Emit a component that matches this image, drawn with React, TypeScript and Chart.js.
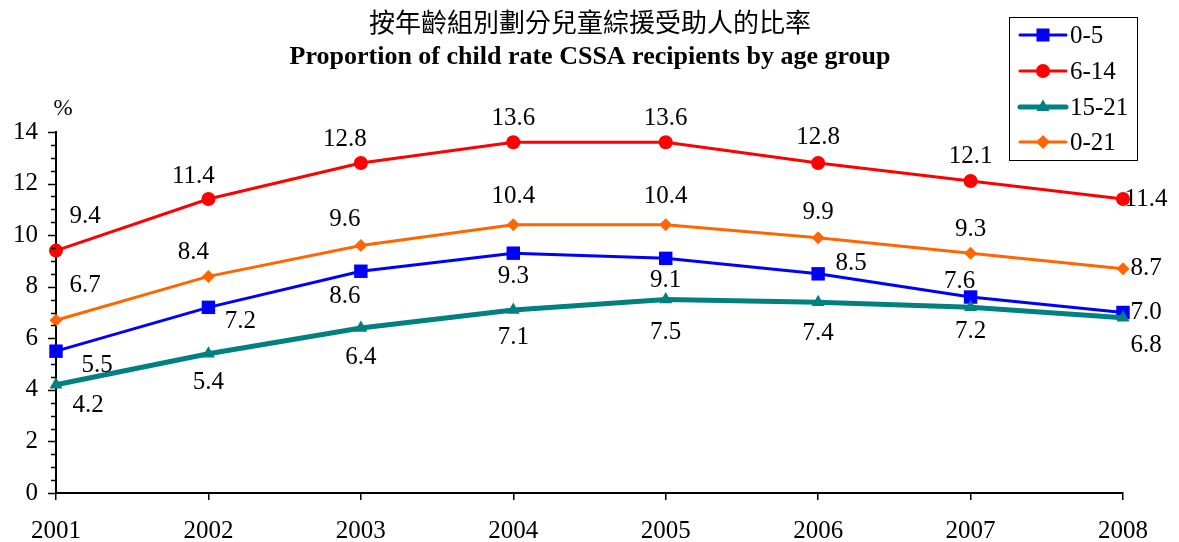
import React, { useEffect, useRef } from "react";
import { Chart, registerables } from "chart.js";

Chart.register(...registerables);

const years = ["2001", "2002", "2003", "2004", "2005", "2006", "2007", "2008"];
const age0to5 = [5.5, 7.2, 8.6, 9.3, 9.1, 8.5, 7.6, 7.0];
const age6to14 = [9.4, 11.4, 12.8, 13.6, 13.6, 12.8, 12.1, 11.4];
const age15to21 = [4.2, 5.4, 6.4, 7.1, 7.5, 7.4, 7.2, 6.8];
const age0to21 = [6.7, 8.4, 9.6, 10.4, 10.4, 9.9, 9.3, 8.7];
const seriesNames = ["0-5", "6-14", "15-21", "0-21"];
const yTicks = [0, 2, 4, 6, 8, 10, 12, 14];

const titleZh = "按年齡組別劃分兒童綜援受助人的比率";
const titleEn = "Proportion of child rate CSSA recipients by age group";

// label placement offsets (pixels relative to each point)
const offBlue = [[41, 14], [32, 14], [-16, 25], [0, 23], [0, 22], [33, -10], [-11, -16], [23, 0]];
const offRed = [[29, -34], [-15, -23], [-16, -24], [0, -24], [0, -24], [0, -26], [0, -25], [23, 0]];
const offTeal = [[32, 21], [0, 29], [0, 29], [0, 28], [0, 33], [0, 31], [0, 24], [23, 28]];
const offOrange = [[29, -35], [-15, -24], [-16, -26], [0, -28], [0, -28], [0, -25], [0, -24], [23, 0]];

const SERIF = '"Liberation Serif", "Times New Roman", serif';

const BLUE = "#0000FF";
const RED = "#FF0000";
const TEAL = "#008080";
const ORANGE = "#FF6600";

function drawMarker(ctx: CanvasRenderingContext2D, style: string, x: number, y: number, color: string) {
  ctx.save();
  ctx.fillStyle = color;
  ctx.beginPath();
  if (style === "rect") {
    ctx.rect(x - 6.5, y - 6.5, 13, 13);
  } else if (style === "circle") {
    ctx.arc(x, y, 7, 0, Math.PI * 2);
  } else if (style === "triangle") {
    ctx.moveTo(x, y - 7.5);
    ctx.lineTo(x + 6.5, y + 4);
    ctx.lineTo(x - 6.5, y + 4);
    ctx.closePath();
  } else {
    ctx.moveTo(x, y - 7);
    ctx.lineTo(x + 7, y);
    ctx.lineTo(x, y + 7);
    ctx.lineTo(x - 7, y);
    ctx.closePath();
  }
  ctx.fill();
  ctx.restore();
}

const decorPlugin = {
  id: "decor",
  afterDraw(chart: any) {
    const ctx: CanvasRenderingContext2D = chart.ctx;
    const yScale = chart.scales.y;
    const area = chart.chartArea;
    ctx.save();
    // titles
    ctx.fillStyle = "#000";
    ctx.textAlign = "center";
    ctx.textBaseline = "middle";
    ctx.font = `26px "Noto Sans CJK TC", sans-serif`;
    ctx.fillText(titleZh, 590, 22);
    ctx.font = `bold 26px ${SERIF}`;
    ctx.fillText(titleEn, 590, 57);
    // % unit
    ctx.font = `23px ${SERIF}`;
    ctx.fillText("%", 63, 109);

    // y ticks (major + minor)
    ctx.strokeStyle = "#000";
    ctx.lineWidth = 1.5;
    for (let v = 0; v <= 14.001; v += 0.5) {
      const py = Math.round(yScale.getPixelForValue(v)) + 0.5;
      const major = Math.abs(v % 2) < 1e-6;
      ctx.beginPath();
      ctx.moveTo(area.left - (major ? 8 : 5), py);
      ctx.lineTo(area.left, py);
      ctx.stroke();
    }

    // legend
    const lx = 1009, ly = 17, lw = 128, lh = 143;
    ctx.fillStyle = "#fff";
    ctx.fillRect(lx, ly, lw, lh);
    ctx.strokeStyle = "#000";
    ctx.lineWidth = 1;
    ctx.strokeRect(lx + 0.5, ly + 0.5, lw, lh);
    const colors = [BLUE, RED, TEAL, ORANGE];
    const styles = ["rect", "circle", "triangle", "rectRot"];
    const widths = [3, 3, 5, 3];
    const rows = [35, 71, 107, 142];
    ctx.font = `25px ${SERIF}`;
    ctx.textAlign = "left";
    ctx.textBaseline = "middle";
    for (let i = 0; i < 4; i++) {
      const ry = rows[i];
      ctx.strokeStyle = colors[i];
      ctx.lineWidth = widths[i];
      ctx.lineCap = "round";
      ctx.beginPath();
      ctx.moveTo(1020, ry);
      ctx.lineTo(1066, ry);
      ctx.stroke();
      drawMarker(ctx, styles[i], 1043, ry, colors[i]);
      ctx.fillStyle = "#000";
      ctx.fillText(seriesNames[i], 1070, ry + 1);
    }
    ctx.restore();
  },
};

const labelsPlugin = {
  id: "pointLabels",
  afterDatasetsDraw(chart: any) {
    const ctx: CanvasRenderingContext2D = chart.ctx;
    const offsets = [offBlue, offRed, offTeal, offOrange];
    ctx.save();
    ctx.font = `25px ${SERIF}`;
    ctx.fillStyle = "#000";
    ctx.textAlign = "center";
    ctx.textBaseline = "middle";
    chart.data.datasets.forEach((ds: any, di: number) => {
      const meta = chart.getDatasetMeta(di);
      meta.data.forEach((pt: any, i: number) => {
        const [dx, dy] = offsets[di][i];
        ctx.fillText(Number(ds.data[i]).toFixed(1), pt.x + dx, pt.y + dy);
      });
    });
    ctx.restore();
  },
};

export default function App() {
  const ref = useRef<HTMLCanvasElement>(null);
  useEffect(() => {
    if (!ref.current) return;
    Chart.defaults.font.family = SERIF;
    const mk = (label: string, data: number[], color: string, style: string, radius: number, bw: number, order: number) => ({
      label,
      data,
      borderColor: color,
      backgroundColor: color,
      pointBackgroundColor: color,
      pointBorderColor: color,
      pointBorderWidth: 0,
      pointStyle: style,
      pointRadius: radius,
      pointHoverRadius: radius,
      borderWidth: bw,
      tension: 0,
      clip: false,
      order,
    });
    const chart = new Chart(ref.current, {
      type: "line",
      data: {
        labels: years,
        datasets: [
          mk(seriesNames[0], age0to5, BLUE, "rect", 9.5, 3, 4),
          mk(seriesNames[1], age6to14, RED, "circle", 7, 3, 3),
          mk(seriesNames[2], age15to21, TEAL, "triangle", 7.5, 5, 2),
          mk(seriesNames[3], age0to21, ORANGE, "rectRot", 6.5, 3, 1),
        ] as any,
      },
      options: {
        animation: false,
        responsive: false,
        events: [],
        layout: { padding: { top: 132, right: 56, left: 0, bottom: 0 } },
        plugins: {
          legend: { display: false },
          title: { display: false },
          tooltip: { enabled: false },
        },
        scales: {
          x: {
            type: "category",
            offset: false,
            afterFit: (s: any) => { s.height = 49; },
            grid: { display: true, drawOnChartArea: false, drawTicks: true, tickLength: 7, color: "#000", lineWidth: 1.5 },
            border: { display: true, color: "#000", width: 2 },
            ticks: { color: "#000", font: { size: 25, family: SERIF }, padding: 16, maxRotation: 0, autoSkip: false },
          },
          y: {
            type: "linear",
            min: 0,
            max: 14,
            afterFit: (s: any) => { s.width = 56; },
            afterBuildTicks: (s: any) => { s.ticks = yTicks.map((v) => ({ value: v })); },
            grid: { display: true, drawOnChartArea: false, drawTicks: false },
            border: { display: true, color: "#000", width: 2 },
            ticks: { color: "#000", font: { size: 25, family: SERIF }, padding: 18 },
          },
        },
      } as any,
      plugins: [labelsPlugin, decorPlugin],
    });
    return () => chart.destroy();
  }, []);
  return (
    <div style={{ position: "fixed", left: 0, top: 0, width: 1179, height: 542, background: "#fff" }}>
      <canvas ref={ref} width={1179} height={542} style={{ display: "block" }} />
    </div>
  );
}
